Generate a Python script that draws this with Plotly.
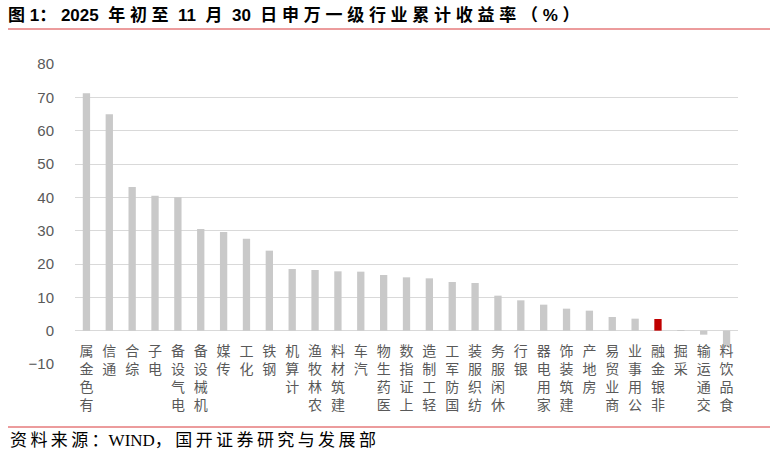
import plotly.graph_objects as go

categories = ["有色金属", "通信", "综合", "电子", "电气设备", "机械设备", "传媒", "化工", "钢铁",
              "计算机", "农林牧渔", "建筑材料", "汽车", "医药生物", "上证指数", "轻工制造", "国防军工",
              "纺织服装", "休闲服务", "银行", "家用电器", "建筑装饰", "房地产", "商业贸易", "公用事业",
              "非银金融", "采掘", "交通运输", "食品饮料"]
values = [71.2, 64.9, 43.1, 40.5, 40.0, 30.5, 29.6, 27.6, 24.0,
          18.5, 18.2, 17.8, 17.7, 16.7, 16.0, 15.7, 14.6,
          14.3, 10.5, 9.1, 7.8, 6.6, 6.0, 4.1, 3.6,
          3.5, 0.1, -1.2, -4.8]
highlight = "非银金融"
y_ticks = [-10, 0, 10, 20, 30, 40, 50, 60, 70, 80]

W, H = 778, 455
L, R, T, B = 75, 40, 64, 91
pw, ph = W - L - R, H - T - B

colors = ["#c00000" if c == highlight else "#c9c9c9" for c in categories]
ticktext = ["<br>".join(reversed(list(c))) for c in categories]

NB = "\u00a0"  # non-breaking space, used as letter spacing


def spaced(s):
    return NB.join(list(s))


title_text = ("<b>" + "图" + NB + "1" + "：" + NB + "2025" + NB + NB + spaced("年初至") + NB + NB +
              "11" + NB + NB + "月" + NB + NB + "30" + NB + NB + spaced("日申万一级行业累计收益率") +
              NB + spaced("（%）") + "</b>")
source_text = "\u2009".join(list("资料来源：")) + "WIND" + "\u2009".join(list("，国开证券研究与发展部"))

fig = go.Figure(go.Bar(x=categories, y=values, marker=dict(color=colors, line=dict(width=0)),
                       hoverinfo="skip"))


def px_x(p):
    return (p - L) / pw


def px_y(p):
    return (H - B - p) / ph


fig.update_layout(
    width=W, height=H,
    margin=dict(l=L, r=R, t=T, b=B),
    paper_bgcolor="white", plot_bgcolor="white",
    bargap=0.68,
    showlegend=False,
    title=dict(text=title_text,
               x=8 / W, xanchor="left", y=1 - 15 / H, yanchor="middle",
               xref="container", yref="container",
               font=dict(family="Liberation Sans, Noto Sans CJK SC", size=17, color="black")),
    xaxis=dict(anchor="free", position=(0 - y_ticks[0]) / (y_ticks[-1] - y_ticks[0]),
               tickmode="array", tickvals=categories, ticktext=ticktext, tickangle=0,
               showgrid=False, showline=False, zeroline=False, ticks="",
               ticklabelstandoff=10,
               tickfont=dict(family="Noto Sans CJK SC", size=14, color="#595959")),
    yaxis=dict(range=[y_ticks[0], y_ticks[-1]], tickvals=y_ticks, showgrid=True,
               gridcolor="#d9d9d9", gridwidth=1, zeroline=True, zerolinecolor="#d9d9d9",
               zerolinewidth=1, showline=False, ticks="", ticklabelstandoff=20,
               tickfont=dict(family="Liberation Sans", size=15, color="#595959")),
    shapes=[
        dict(type="line", xref="paper", yref="paper", x0=px_x(8), x1=px_x(770),
             y0=px_y(29), y1=px_y(29), line=dict(color="#d9383a", width=1)),
        dict(type="line", xref="paper", yref="paper", x0=px_x(8), x1=px_x(770),
             y0=px_y(427), y1=px_y(427), line=dict(color="#d9383a", width=1)),
    ],
    annotations=[
        dict(text=source_text, xref="paper", yref="paper",
             x=px_x(8), y=px_y(440), xanchor="left", yanchor="middle", showarrow=False,
             font=dict(family="Liberation Serif, Noto Sans CJK SC", size=17, color="black")),
    ],
)

fig.write_html("out.html")
